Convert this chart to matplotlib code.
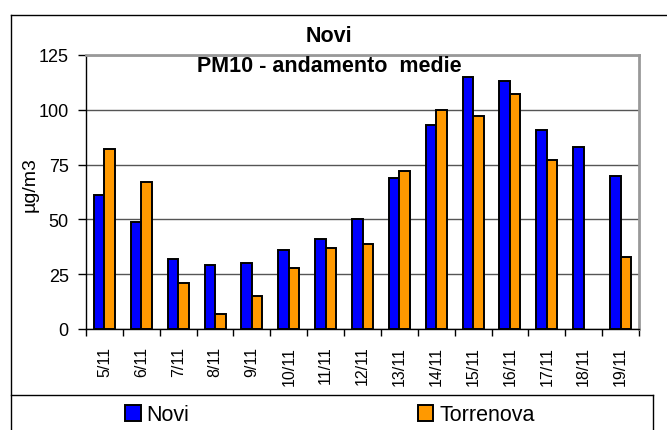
import numpy as np
import matplotlib
matplotlib.use("Agg")
import matplotlib.pyplot as plt
from matplotlib.lines import Line2D

plt.rcParams['font.family'] = ['Liberation Sans', 'DejaVu Sans']

days = ["5/11", "6/11", "7/11", "8/11", "9/11", "10/11", "11/11", "12/11",
        "13/11", "14/11", "15/11", "16/11", "17/11", "18/11", "19/11"]
novi = [61, 49, 32, 29, 30, 36, 41, 50, 69, 93, 115, 113, 91, 83, 70]
torrenova = [82, 67, 21, 7, 15, 28, 37, 39, 72, 100, 97, 107, 77, np.nan, 33]
yticks = [0, 25, 50, 75, 100, 125]

W, H = 667, 431
fig = plt.figure(figsize=(W / 100, H / 100), dpi=100)
ax = fig.add_axes([86 / W, 1 - 330 / H, (639 - 86) / W, (330 - 56) / H])

x = np.arange(len(days))
bw = 0.285
b1 = ax.bar(x - bw / 2, novi, bw, color="#0000FF", edgecolor="black", linewidth=1.4, zorder=3)
b2 = ax.bar(x + bw / 2, torrenova, bw, color="#FF9900", edgecolor="black", linewidth=1.4, zorder=3)

ax.set_xlim(-0.5, len(days) - 0.5)
ax.set_ylim(0, 125)
ax.set_yticks(yticks)
ax.tick_params(axis="y", labelsize=13, length=6, width=1, pad=6.5, direction="out")
ax.set_xticks(x)
ax.set_xticklabels(days, rotation=90, fontsize=11.5)
ax.set_xticks(np.arange(-0.5, len(days), 1), minor=True)
ax.tick_params(axis="x", which="major", length=0, pad=12)
ax.tick_params(axis="x", which="minor", length=5, width=1, direction="out")

ax.grid(axis="y", color="#555555", linewidth=1, zorder=0)
ax.set_axisbelow(True)
for s in ["top", "right"]:
    ax.spines[s].set_color("#999999")
    ax.spines[s].set_linewidth(2)
for s in ["left", "bottom"]:
    ax.spines[s].set_color("black")
    ax.spines[s].set_linewidth(1)

# titles and y label
fig.text(329 / W, 1 - 36.5 / H, "Novi", ha="center", va="center", fontsize=15.5, fontweight="bold")
fig.text(329 / W, 1 - 66 / H, "PM10 - andamento  medie", ha="center", va="center",
         fontsize=15.5, fontweight="bold", zorder=10)
fig.text(30 / W, 1 - 185 / H, "µg/m3", rotation=90, ha="center", va="center", fontsize=14)

# outer chart frame and legend box (cropped at right / bottom)
x0 = 10.5 / W
fig.add_artist(Line2D([x0, x0], [0, 1 - 16 / H], color="black", linewidth=1, transform=fig.transFigure))
fig.add_artist(Line2D([x0, 1], [1 - 16 / H, 1 - 16 / H], color="black", linewidth=1, transform=fig.transFigure))
fig.add_artist(Line2D([x0, 653 / W], [1 - 396 / H, 1 - 396 / H], color="black", linewidth=1, transform=fig.transFigure))
fig.add_artist(Line2D([653 / W, 653 / W], [0, 1 - 396 / H], color="black", linewidth=1, transform=fig.transFigure))

fig.legend([b1, b2], ["Novi", "Torrenova"], ncol=2, loc="center left",
           bbox_to_anchor=(125 / W, 1 - 416 / H), frameon=False, fontsize=15.5,
           handlelength=0.72, handleheight=0.72, handletextpad=0.28,
           columnspacing=10.6, borderpad=0, borderaxespad=0)

fig.savefig("out.png", dpi=100)
